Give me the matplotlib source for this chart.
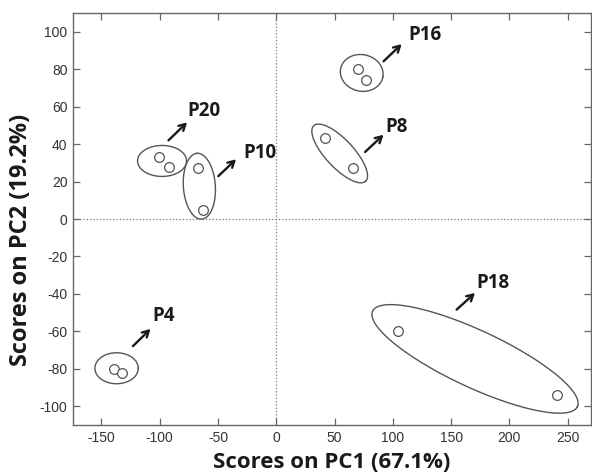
import matplotlib
matplotlib.use("Agg")
import matplotlib.pyplot as plt
import numpy as np

plt.rcParams["axes.unicode_minus"] = False

# PCA scores, two replicates per sample
samples = ["P20", "P10", "P16", "P8", "P18", "P4"]
pc1 = [[-101, -92], [-67, -63], [70, 77], [42, 66], [104, 241], [-139, -132]]
pc2 = [[33, 28], [27, 5], [80, 74], [43, 27], [-60, -94], [-80, -82]]

# group ellipses: center (data), semi axes (px), tilt (deg on screen)
ell_center = [(-98, 31), (-66, 17.5), (73.3, 78), (54.4, 35), (170.5, -74.7), (-137, -79.7)]
ell_axes = [(24.5, 15.5), (33, 16), (21.5, 18.3), (38, 14), (113, 28.5), (21.7, 15.5)]
ell_angle = [0, 94, -12, -47, -25, 0]

# label arrows (start, end) and label anchor, in data units
arrow_start = [(-92.5, 42), (-49.7, 22.9), (92, 84.2), (76.2, 35.8), (154.7, -48.4), (-123, -67.9)]
arrow_end = [(-76.5, 51.6), (-34.5, 31.9), (107.6, 93.4), (92, 45), (170.5, -39.5), (-107.9, -58.7)]
label_pos = [(-76, 57.5), (-28, 35.5), (113, 98), (94, 49), (172, -34), (-106, -52)]

W, H = 592, 474
fig = plt.figure(figsize=(W / 100, H / 100), dpi=100)
left, right, bottom, top = 73 / W, 591 / W, 1 - 425 / H, 1 - 13 / H
ax = fig.add_axes([left, bottom, right - left, top - bottom])

xlim = (-174.4, 270)
ylim = (-110, 110)
ax.set_xlim(*xlim)
ax.set_ylim(*ylim)

# px per data unit
sx = (right - left) * W / (xlim[1] - xlim[0])
sy = (top - bottom) * H / (ylim[1] - ylim[0])

ax.axhline(0, color="#777777", ls=":", lw=0.9, zorder=1)
ax.axvline(0, color="#777777", ls=":", lw=0.9, zorder=1)

t = np.linspace(0, 2 * np.pi, 200)
for i, name in enumerate(samples):
    ax.plot(pc1[i], pc2[i], "o", ms=7, mfc="white", mec="#555555", mew=0.9, zorder=3)

    cx, cy = ell_center[i]
    a, b = ell_axes[i]
    th = np.radians(ell_angle[i])
    px = a * np.cos(t) * np.cos(th) - b * np.sin(t) * np.sin(th)
    py = a * np.cos(t) * np.sin(th) + b * np.sin(t) * np.cos(th)
    ax.plot(cx + px / sx, cy + py / sy, color="#555555", lw=1.0, zorder=2)

    ax.annotate("", xy=arrow_end[i], xytext=arrow_start[i],
                arrowprops=dict(arrowstyle="->,head_length=0.45,head_width=0.25",
                                lw=1.7, color="#1a1a1a", shrinkA=0, shrinkB=0))
    ax.text(label_pos[i][0], label_pos[i][1], name, fontsize=13.5, fontweight="bold",
            family="Open Sans", color="#1a1a1a", ha="left", va="center")

ax.set_xticks([-150, -100, -50, 0, 50, 100, 150, 200, 250])
ax.set_yticks([-100, -80, -60, -40, -20, 0, 20, 40, 60, 80, 100])
ax.tick_params(direction="in", top=True, right=True, length=5, width=0.9,
               color="#666666", labelsize=10, labelcolor="#333333", pad=4)
for lab in ax.get_xticklabels() + ax.get_yticklabels():
    lab.set_family("Liberation Sans")
for s in ax.spines.values():
    s.set_color("#666666")
    s.set_linewidth(1.0)

ax.set_xlabel("Scores on PC1 (67.1%)", fontsize=16, fontweight="bold",
              family="Open Sans", color="#1a1a1a", labelpad=5)
ax.set_ylabel("Scores on PC2 (19.2%)", fontsize=17, fontweight="bold",
              family="Open Sans", color="#1a1a1a")
ax.yaxis.set_label_coords(-0.077, 0.449)

fig.savefig("out.png", dpi=100)
